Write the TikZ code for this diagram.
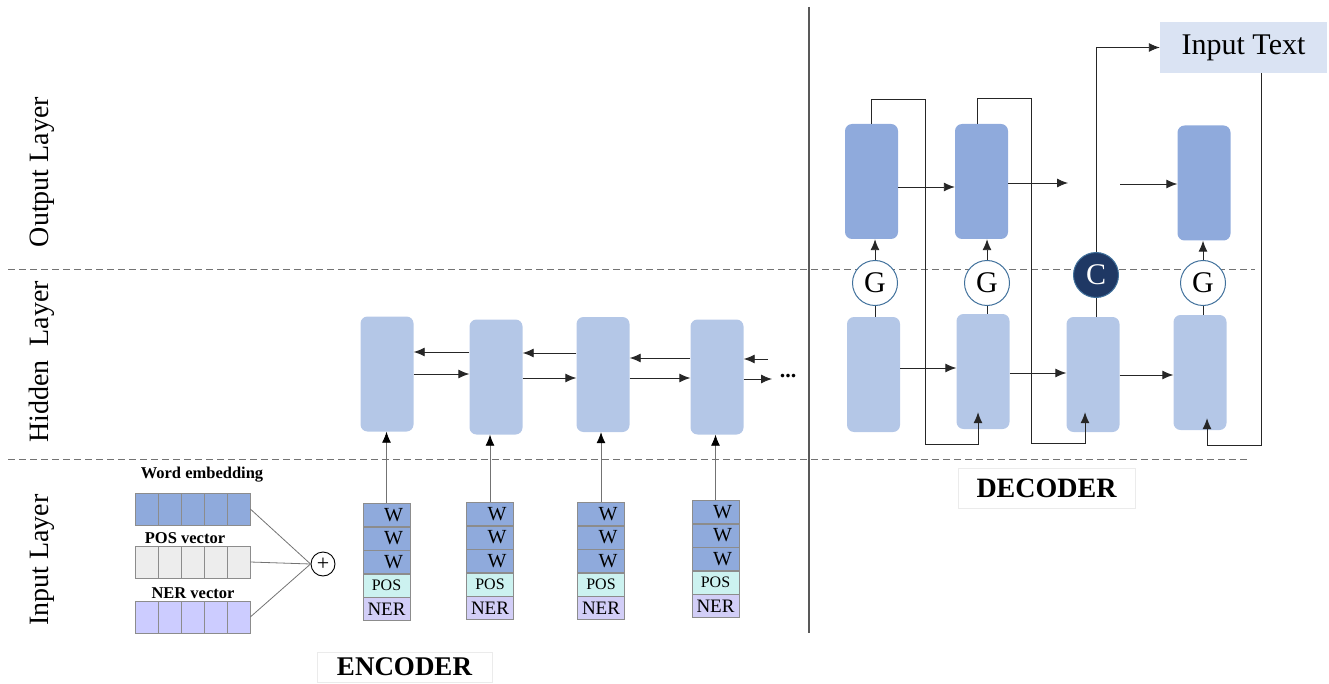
\documentclass[tikz,border=0pt]{standalone}
\usepackage{fontspec}
\setmainfont{Liberation Serif}
\usetikzlibrary{arrows.meta,calc}
\definecolor{hid}{HTML}{B4C7E7}
\definecolor{outc}{HTML}{8FAADC}
\definecolor{wcol}{HTML}{8FAADC}
\definecolor{poscol}{HTML}{CCF2F0}
\definecolor{nercol}{HTML}{D2CEF7}
\definecolor{posv}{HTML}{EDEDED}
\definecolor{nerv}{HTML}{CCCCFF}
\definecolor{inpc}{HTML}{DAE3F3}
\definecolor{navy}{HTML}{1F3864}
\definecolor{gatec}{HTML}{41719C}
\begin{document}
\begin{tikzpicture}[x=1pt,y=-1pt,
  box/.style={rounded corners=7pt, minimum width=53pt, minimum height=115pt, inner sep=0pt, draw=none},
  hbox/.style={box, fill=hid},
  obox/.style={box, fill=outc},
  arr/.style={draw=black!85, line width=0.9pt, -{Latex[length=11pt,width=9pt]}},
  arrg/.style={draw=black!55, line width=0.8pt, -{Latex[length=11pt,width=9pt,color=black]}},
  ln/.style={draw=black!85, line width=0.9pt},
  gl/.style={draw=black!55, line width=0.8pt},
  dline/.style={draw=black!55, line width=1pt, dash pattern=on 7pt off 4pt},
  cell/.style={draw=black!45, line width=0.6pt, minimum width=47pt, minimum height=23pt, inner sep=0pt},
  vcell/.style={draw=black!45, line width=0.6pt, minimum width=23pt, minimum height=32pt, inner sep=0pt},
  gate/.style={circle, draw=gatec, line width=1pt, fill=white, minimum size=45pt, inner sep=0pt, font=\fontsize{30}{30}\selectfont},
  laylab/.style={rotate=90, font=\fontsize{28}{30}\selectfont},
  vlab/.style={font=\fontsize{16.5}{18}\selectfont\bfseries},
  wtxt/.style={font=\fontsize{20}{20}\selectfont},
]
\useasboundingbox (0,0) rectangle (1329,684);

% layer separators
\draw[dline] (8,270) -- (1255,270);
\draw[dline] (8,459) -- (1250,459);
\draw[draw=black!65, line width=1.4pt] (809,7) -- (809,633);

% layer labels
\node[laylab] (ol) at (42,172) {Output Layer};
\node[laylab] (hl) at (42,362) {Hidden~ Layer};
\node[laylab] (il) at (42,560) {Input Layer};

% input vectors
\node[vlab] (lw) at (202,475) {Word embedding};
\node[vlab] (lp) at (185,538) {POS vector};
\node[vlab] (ln) at (193,593) {NER vector};
\foreach \k in {1,...,5} {
  \node[vcell, fill=wcol] (wv\k) at ({123.5+23*\k},509) {};
  \node[vcell, fill=posv] (pv\k) at ({123.5+23*\k},562) {};
  \node[vcell, fill=nerv] (nv\k) at ({123.5+23*\k},617) {};
}
\node[circle, draw=black, line width=0.9pt, minimum size=24pt, inner sep=0pt, font=\fontsize{22}{22}\selectfont] (plus) at (323,564) {+};
\draw[gl] (wv5.east) -- (plus.west);
\draw[gl] (pv5.east) -- (plus.west);
\draw[gl] (nv5.east) -- (plus.west);

% encoder stacks and hidden boxes
\foreach \i/\x/\t/\ex/\ey in {1/386.5/503/387/374, 2/490/502/496/377, 3/601/502/603/374.5, 4/715.5/500/717/377} {
  \node[cell, fill=wcol, anchor=north, wtxt] (wa\i) at (\x,\t) {\hspace*{14pt}W};
  \node[cell, fill=wcol, anchor=north, wtxt] (wb\i) at (wa\i.south) {\hspace*{14pt}W};
  \node[cell, fill=wcol, anchor=north, wtxt] (wc\i) at (wb\i.south) {\hspace*{14pt}W};
  \node[cell, fill=poscol, anchor=north, font=\fontsize{16}{16}\selectfont] (pos\i) at (wc\i.south) {POS};
  \node[cell, fill=nercol, anchor=north, font=\fontsize{19}{19}\selectfont] (ner\i) at (pos\i.south) {NER};
  \node[hbox] (e\i) at (\ex,\ey) {};
  \draw[arrg] (wa\i.north) -- (wa\i.north |- e\i.south);
}

% encoder recurrent arrows
\draw[arr] (e2.west |- 0,352) -- (e1.east |- 0,352);
\draw[arr] (e1.east |- 0,374) -- (e2.west |- 0,374);
\draw[arr] (e3.west |- 0,353) -- (e2.east |- 0,353);
\draw[arr] (e2.east |- 0,378) -- (e3.west |- 0,378);
\draw[arr] (e4.west |- 0,358) -- (e3.east |- 0,358);
\draw[arr] (e3.east |- 0,378) -- (e4.west |- 0,378);
\coordinate (l4) at (768,359);
\coordinate (r4) at (772,379);
\draw[arr] (l4) -- (e4.east |- l4);
\draw[arr] (e4.east |- r4) -- (r4);
\node[anchor=base, font=\fontsize{22}{22}\selectfont\bfseries] (dots) at (788,377) {...};

\node[draw=black!8, minimum width=175pt, minimum height=30pt, font=\fontsize{27}{28}\selectfont\bfseries] (enc) at (404.5,667) {ENCODER};

% decoder
\node[obox] (o1) at (871.5,181.5) {};
\node[obox] (o2) at (981.5,181.5) {};
\node[obox] (o4) at (1204,183) {};
\node[hbox] (h1) at (873.5,374.5) {};
\node[hbox] (h2) at (983,371.5) {};
\node[hbox] (h3) at (1093,374.5) {};
\node[hbox] (h4) at (1200,372.5) {};
\node[gate] (g1) at (875,283) {G};
\node[gate] (g2) at (987,283) {G};
\node[gate, fill=navy, text=white] (c) at (1096,275) {C};
\node[gate] (g4) at (1203,283) {G};
\node[fill=inpc, minimum width=167pt, minimum height=51pt, inner sep=0pt, font=\fontsize{30}{30}\selectfont] (inp) at (1243.5,47.5) {Input Text};

\draw[arr] (o1.east |- 0,187) -- (o2.west |- 0,187);
\coordinate (o3a) at (1068,183);
\coordinate (o3b) at (1120,184);
\draw[arr] (o2.east |- o3a) -- (o3a);
\draw[arr] (o3b) -- (o4.west |- o3b);
\draw[arr] (h1.east |- 0,368) -- (h2.west |- 0,368);
\draw[arr] (h2.east |- 0,373) -- (h3.west |- 0,373);
\draw[arr] (h3.east |- 0,375) -- (h4.west |- 0,375);

\foreach \g/\h/\o in {g1/h1/o1, g2/h2/o2, g4/h4/o4} {
  \draw[ln] (\g.south) -- (\g.south |- \h.north);
  \draw[arr] (\g.north) -- (\g.north |- \o.south);
}
\draw[ln] (c.south) -- (c.south |- h3.north);
\draw[arr] (c.north) |- (inp.west);

\draw[arr] (o1.north) |- (925,99) |- (978,444) -- ([xshift=-5pt,yshift=17pt]h2.south);
\draw[arr] ([xshift=-4.5pt]o2.north) |- (1031,98) |- (1085,443) -- ([xshift=-8pt,yshift=20pt]h3.south);
\draw[arr] ([xshift=17.5pt]inp.south) |- (1207,445) -- ([xshift=7pt,yshift=12pt]h4.south);

\node[draw=black!8, minimum width=177pt, minimum height=40pt, font=\fontsize{28}{28}\selectfont\bfseries] (dec) at (1046.5,488) {DECODER};
\end{tikzpicture}
\end{document}
